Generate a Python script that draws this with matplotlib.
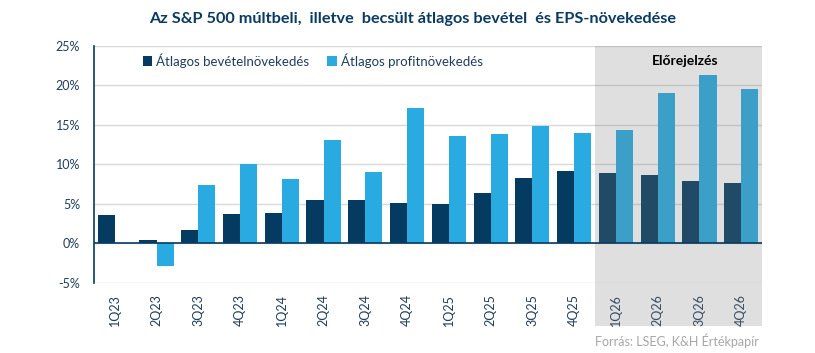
import matplotlib
matplotlib.use("Agg")
import matplotlib.pyplot as plt
from matplotlib.patches import Rectangle
import numpy as np

quarters = ["1Q23", "2Q23", "3Q23", "4Q23", "1Q24", "2Q24", "3Q24", "4Q24",
            "1Q25", "2Q25", "3Q25", "4Q25", "1Q26", "2Q26", "3Q26", "4Q26"]
revenue_growth = [3.6, 0.4, 1.7, 3.7, 3.85, 5.5, 5.5, 5.1,
                  5.0, 6.4, 8.3, 9.2, 8.9, 8.7, 7.9, 7.7]
profit_growth = [0.0, -2.9, 7.4, 10.1, 8.2, 13.1, 9.1, 17.1,
                 13.65, 13.8, 14.9, 14.0, 14.4, 19.1, 21.3, 19.6]
first_forecast = "1Q26"

navy = "#053b61"
light = "#29aae1"
text_col = "#1f3d5c"

plt.rcParams["font.family"] = ["Lato", "DejaVu Sans"]

fig = plt.figure(figsize=(8.15, 3.53), dpi=100)
ax = fig.add_axes([0.1153, 0.1983, 0.8197, 0.6714])

x = np.arange(len(quarters))
w = 0.41
ax.bar(x - w / 2, revenue_growth, w, color=navy, label="Átlagos bevételnövekedés", zorder=2)
ax.bar(x + w / 2, profit_growth, w, color=light, label="Átlagos profitnövekedés", zorder=2)

ax.set_xlim(-0.5, len(quarters) - 0.5)
ax.set_ylim(-5, 25)
ax.set_yticks(range(-5, 26, 5))
ax.set_yticklabels([f"{v}%" for v in range(-5, 26, 5)])
ax.set_xticks(x)
ax.set_xticklabels(quarters, rotation=90)
ax.tick_params(axis="both", length=0, labelsize=9, colors=text_col)
ax.tick_params(axis="x", pad=8)
ax.tick_params(axis="y", pad=10)

ax.set_axisbelow(True)
ax.grid(axis="y", color="#d9d9d9", linewidth=1)
for s in ["top", "right", "bottom"]:
    ax.spines[s].set_visible(False)
ax.spines["left"].set_color(navy)
ax.spines["left"].set_linewidth(1.2)
ax.axhline(0, color=navy, linewidth=1.2, zorder=3)

# forecast shading (semi-transparent overlay, mutes bars beneath)
fx = quarters.index(first_forecast) - 0.5
shade = Rectangle((fx, -0.181), len(quarters) - 0.5 - fx, 1.181,
                  transform=ax.get_xaxis_transform(), facecolor="#7c7c7c",
                  alpha=0.24, edgecolor="none", zorder=2.2, clip_on=False)
ax.add_patch(shade)
ax.text((fx + len(quarters) - 0.5) / 2 + 0.15, 0.935, "Előrejelzés", transform=ax.get_xaxis_transform(),
        ha="center", va="center", fontsize=10, fontweight="bold", color="black", zorder=4)

leg = ax.legend(loc="upper left", bbox_to_anchor=(0.055, 1.02), ncol=2, frameon=False,
                fontsize=9.5, handlelength=0.7, handleheight=0.7, handletextpad=0.3,
                columnspacing=1.4, labelcolor=text_col)

fig.text(0.506, 0.945, "Az S&P 500 múltbeli,  illetve  becsült átlagos bevétel  és EPS-növekedése",
         ha="center", va="center", fontsize=11.7, fontweight="bold", color="#0b3a62")
fig.text(0.931, 0.035, "Forrás: LSEG, K&H Értékpapír", ha="right", va="center",
         fontsize=9, color="#a6a6a6")

fig.savefig("out.png", dpi=100)
